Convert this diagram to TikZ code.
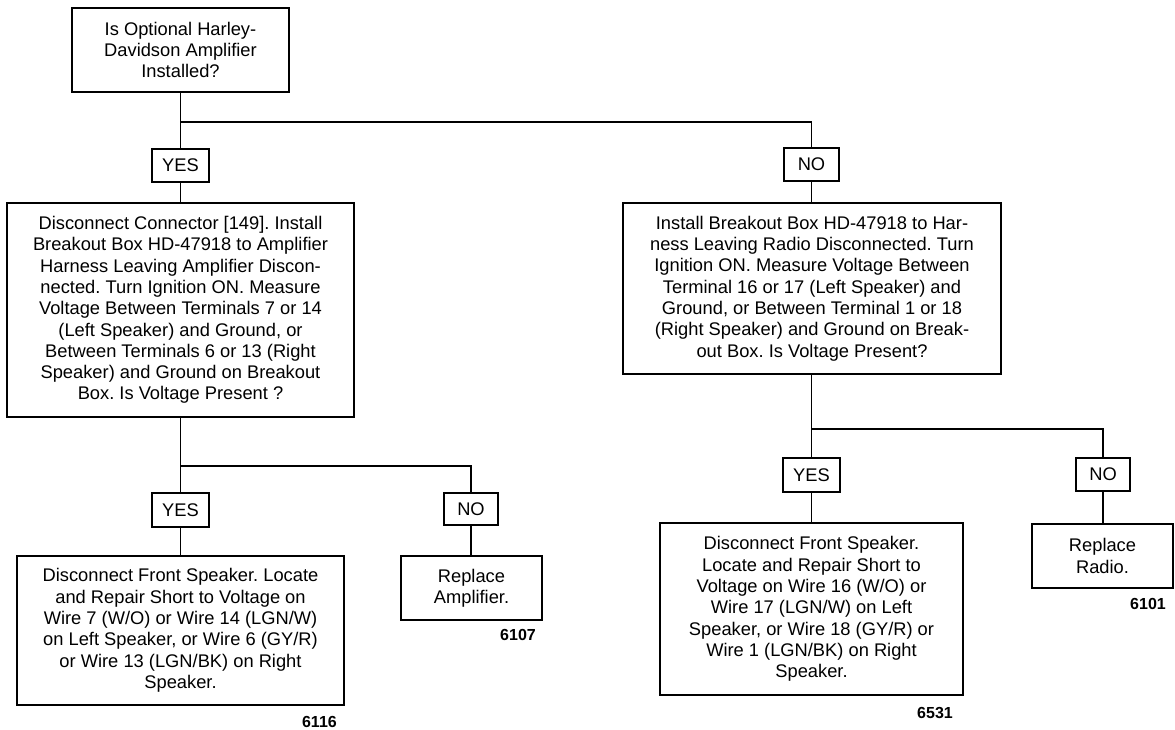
\documentclass[tikz,border=0pt]{standalone}
\usepackage{fontspec}
\setmainfont{Liberation Sans}
\frenchspacing
\newcommand\dfont{\fontsize{18.3}{21.3}\selectfont}
\newcommand\nfont{\fontsize{16}{18}\selectfont\bfseries}
\begin{document}
\begin{tikzpicture}[x=1pt,y=-1pt,
  box/.style={draw, line width=1.3pt, inner sep=0pt, align=center, font=\dfont},
  conn/.style={line width=1.3pt},
  fig/.style={anchor=east, inner sep=0pt, font=\nfont}]
\useasboundingbox (0,0) rectangle (1175,730);
% nodes
\node[box, minimum width=217pt, minimum height=84pt] (top) at (180.5,50) {Is Optional Harley-\\Davidson Amplifier\\Installed?};
\node[box, minimum width=57pt, minimum height=33pt] (yes1) at (180.5,165.5) {YES};
\node[box, minimum width=55pt, minimum height=33pt] (no1) at (811.5,164.5) {NO};
\node[box, minimum width=347pt, minimum height=214pt] (L) at (180.5,310) {Disconnect Connector [149]. Install\\Breakout Box HD-47918 to Amplifier\\Harness Leaving Amplifier Discon-\\nected. Turn Ignition ON. Measure\\Voltage Between Terminals 7 or 14\\(Left Speaker) and Ground, or\\Between Terminals 6 or 13 (Right\\Speaker) and Ground on Breakout\\Box. Is Voltage Present ?};
\node[box, minimum width=378pt, minimum height=171pt] (R) at (812,288.5) {Install Breakout Box HD-47918 to Har-\\ness Leaving Radio Disconnected. Turn\\Ignition ON. Measure Voltage Between\\Terminal 16 or 17 (Left Speaker) and\\Ground, or Between Terminal 1 or 18\\(Right Speaker) and Ground on Break-\\out Box. Is Voltage Present?};
\node[box, minimum width=57pt, minimum height=34pt] (yes2) at (180.5,510) {YES};
\node[box, minimum width=54pt, minimum height=32pt] (no2) at (471,509) {NO};
\node[box, minimum width=327pt, minimum height=149pt] (LL) at (180.5,630.5) {Disconnect Front Speaker. Locate\\and Repair Short to Voltage on\\Wire 7 (W/O) or Wire 14 (LGN/W)\\on Left Speaker, or Wire 6 (GY/R)\\or Wire 13 (LGN/BK) on Right\\Speaker.};
\node[box, minimum width=141pt, minimum height=64pt] (RA) at (471.5,588) {Replace\\Amplifier.};
\node[box, minimum width=57pt, minimum height=34pt] (yes3) at (811.5,475) {YES};
\node[box, minimum width=54pt, minimum height=33pt] (no3) at (1103,474.5) {NO};
\node[box, minimum width=303pt, minimum height=172pt] (RL) at (811.5,609) {Disconnect Front Speaker.\\Locate and Repair Short to\\Voltage on Wire 16 (W/O) or\\Wire 17 (LGN/W) on Left\\Speaker, or Wire 18 (GY/R) or\\Wire 1 (LGN/BK) on Right\\Speaker.};
\node[box, minimum width=141pt, minimum height=64pt] (RR) at (1102.5,556) {Replace\\Radio.};
% figure numbers
\node[fig] (f1) at (337,722) {6116};
\node[fig] (f2) at (536,635) {6107};
\node[fig] (f3) at (953,712.5) {6531};
\node[fig] (f4) at (1166,603.5) {6101};
% junctions
\coordinate (j1) at (180.5,122);
\coordinate (j2) at (180.5,466);
\coordinate (j3) at (811.5,429);
% connectors
\draw[conn] (top.south) -- (yes1.north);
\draw[conn] (j1) -| (no1.north);
\draw[conn] (yes1.south) -- (L.north);
\draw[conn] (no1.south) -- (no1.south |- R.north);
\draw[conn] (L.south) -- (yes2.north);
\draw[conn] (j2) -| (no2.north);
\draw[conn] (yes2.south) -- (LL.north);
\draw[conn] (no2.south) -- (no2.south |- RA.north);
\draw[conn] (no1.south |- R.south) -- (yes3.north);
\draw[conn] (j3) -| (no3.north);
\draw[conn] (yes3.south) -- (RL.north);
\draw[conn] (no3.south) -- (no3.south |- RR.north);
\end{tikzpicture}
\end{document}
